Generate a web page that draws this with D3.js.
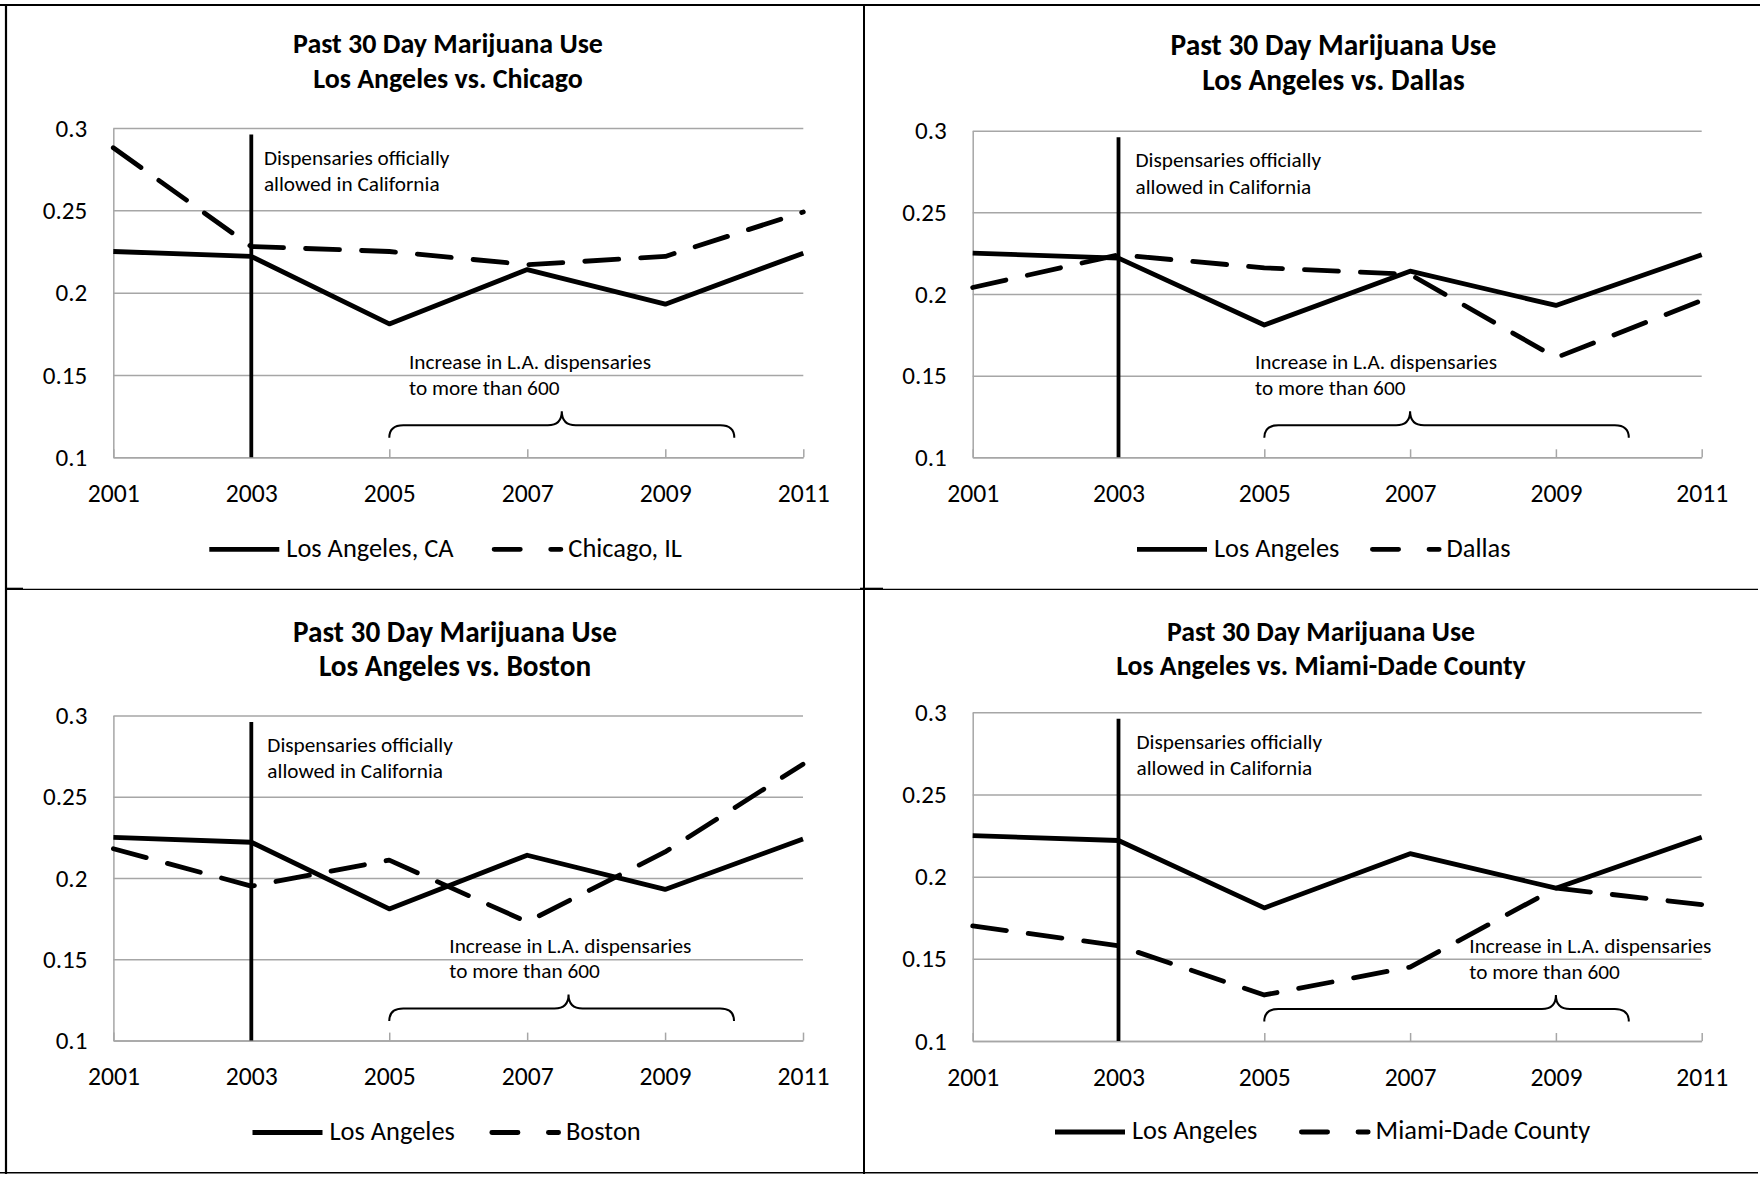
<!DOCTYPE html>
<html>
<head>
<meta charset="utf-8">
<script src="https://cdn.jsdelivr.net/npm/d3@7"></script>
<style>
  body { margin: 0; background: #fff; }
</style>
</head>
<body>
<svg id="chart"></svg>
<script>
// ---- data ----
const years = [2001, 2003, 2005, 2007, 2009, 2011];
const xTickLabels = ["2001", "2003", "2005", "2007", "2009", "2011"];
const yTicks = [0.1, 0.15, 0.2, 0.25, 0.3];
const yTickLabels = ["0.1", "0.15", "0.2", "0.25", "0.3"];

const losAngeles = [0.225, 0.222, 0.181, 0.214, 0.193, 0.224];
const chicago    = [0.288, 0.228, 0.225, 0.217, 0.222, 0.249];
const dallas     = [0.204, 0.224, 0.216, 0.212, 0.161, 0.196];
const boston     = [0.218, 0.195, 0.211, 0.173, 0.216, 0.270];
const miamiDade  = [0.170, 0.158, 0.128, 0.145, 0.193, 0.183];

const comparisons = [chicago, dallas, boston, miamiDade];
const subtitles = ["Los Angeles vs. Chicago", "Los Angeles vs. Dallas",
                   "Los Angeles vs. Boston", "Los Angeles vs. Miami-Dade County"];
const legendLabels = [["Los Angeles, CA", "Chicago, IL"], ["Los Angeles", "Dallas"],
                      ["Los Angeles", "Boston"], ["Los Angeles", "Miami-Dade County"]];
const title = "Past 30 Day Marijuana Use";

const eventYear = 2003;          // dispensaries allowed
const eventTop = 0.296;
const eventNote = ["Dispensaries officially", "allowed in California"];
const growthNote = ["Increase in L.A. dispensaries", "to more than 600"];
const braceStart = 2005, braceEnd = 2010;
const braceTips = [2007.5, 2007, 2007.6, 2009];

// ---- layout of each panel (pixels) ----
const panels = [
  {left: 113.3, right: 803.3, top: 128, bottom: 457.3, titleX: 448, titleY: 53.3, titleW: 310,
   noteDx: 12.6, growthX: 409, legendY: 549.3, solidX: 209.3, dashX: 491.7},
  {left: 972.7, right: 1701.7, top: 130.7, bottom: 457.3, titleX: 1333.5, titleY: 55, titleW: 326,
   noteDx: 17, growthX: 1255, legendY: 549.3, solidX: 1137, dashX: 1370},
  {left: 113.4, right: 803, top: 715.4, bottom: 1040.6, titleX: 455, titleY: 641.7, titleW: 324,
   noteDx: 16, growthX: 449.3, legendY: 1132.5, solidX: 252.5, dashX: 489.4},
  {left: 972.7, right: 1701.7, top: 712.3, bottom: 1041, titleX: 1321, titleY: 640.7, titleW: 308,
   noteDx: 18, growthX: 1469.3, legendY: 1132, solidX: 1055, dashX: 1299}
];

const W = 1760, H = 1177;
const FONT = "Carlito, Calibri, Lato, 'Open Sans', sans-serif";
const GRID = "#a6a6a6";

const svg = d3.select("#chart").attr("width", W).attr("height", H)
  .style("display", "block");

// size a font so a string spans a given width
function fitSize(text, weight, width) {
  const t = svg.append("text").attr("font-family", FONT).attr("font-weight", weight)
    .attr("font-size", 100).text(text);
  const w = t.node().getComputedTextLength();
  t.remove();
  return 100 * width / w;
}

const noteSize = fitSize(eventNote[0], 400, 185.7);
const legendSize = fitSize(legendLabels[0][0], 400, 167.3);
const xTickSize = fitSize("2001", 400, 52);
const yTickSize = fitSize("0.25", 400, 44.5);

// ---- table borders ----
const frame = svg.append("g").attr("stroke", "#000").attr("fill", "none");
frame.append("line").attr("x1", 0).attr("x2", W).attr("y1", 5).attr("y2", 5).attr("stroke-width", 2.2);
frame.append("line").attr("x1", 6).attr("x2", 6).attr("y1", 4).attr("y2", 1174).attr("stroke-width", 2.2);
frame.append("line").attr("x1", 864).attr("x2", 864).attr("y1", 4).attr("y2", 1174).attr("stroke-width", 2);
frame.append("line").attr("x1", 6).attr("x2", 1758).attr("y1", 589.3).attr("y2", 589.3).attr("stroke-width", 1.3);
frame.append("line").attr("x1", 6).attr("x2", 23).attr("y1", 588.8).attr("y2", 588.8).attr("stroke-width", 2.2);
frame.append("line").attr("x1", 860).attr("x2", 883).attr("y1", 588.8).attr("y2", 588.8).attr("stroke-width", 2.2);
frame.append("line").attr("x1", 0).attr("x2", 1758).attr("y1", 1172.7).attr("y2", 1172.7).attr("stroke-width", 1.6);

panels.forEach((p, i) => {
  const g = svg.append("g");
  const x = d3.scaleLinear([years[0], years[years.length - 1]], [p.left, p.right]);
  const y = d3.scaleLinear([yTicks[0], yTicks[yTicks.length - 1]], [p.bottom, p.top]);

  // title
  const tSize = fitSize(title, 700, p.titleW);
  g.append("g").attr("font-family", FONT).attr("font-weight", 700).attr("font-size", tSize)
    .attr("text-anchor", "middle")
    .selectAll("text").data([title, subtitles[i]]).join("text")
    .attr("x", p.titleX).attr("y", (d, k) => p.titleY + k * 34.5)
    .text(d => d);

  // y axis with gridlines
  g.append("g")
    .attr("transform", `translate(${p.left},0)`)
    .call(d3.axisLeft(y).tickValues(yTicks).tickSize(-(p.right - p.left)).tickSizeOuter(0)
      .tickPadding(26).tickFormat((d, k) => yTickLabels[k]))
    .call(a => a.selectAll("line").attr("stroke", GRID).attr("stroke-width", 1.5))
    .call(a => a.select(".domain").attr("stroke", GRID).attr("stroke-width", 1.5))
    .call(a => a.selectAll("text").attr("font-family", FONT).attr("font-size", yTickSize).attr("fill", "#000"));

  // x axis, ticks pointing up
  g.append("g")
    .attr("transform", `translate(0,${p.bottom})`)
    .call(d3.axisBottom(x).tickValues(years).tickSize(-8).tickSizeOuter(0)
      .tickPadding(26.5).tickFormat((d, k) => xTickLabels[k]))
    .call(a => a.selectAll("line").attr("stroke", GRID).attr("stroke-width", 1.5))
    .call(a => a.select(".domain").attr("stroke", GRID).attr("stroke-width", 1.5))
    .call(a => a.selectAll("text").attr("font-family", FONT).attr("font-size", xTickSize).attr("fill", "#000"));

  // series
  const line = d3.line().x((d, k) => x(years[k])).y(d => y(d));
  g.append("path").attr("d", line(losAngeles))
    .attr("fill", "none").attr("stroke", "#000").attr("stroke-width", 4.8)
    .attr("stroke-linejoin", "round");
  g.append("path").attr("d", line(comparisons[i]))
    .attr("fill", "none").attr("stroke", "#000").attr("stroke-width", 4.8)
    .attr("stroke-dasharray", "34,22").attr("stroke-linecap", "round")
    .attr("stroke-linejoin", "round");

  // event marker
  g.append("line")
    .attr("x1", x(eventYear)).attr("x2", x(eventYear))
    .attr("y1", y(eventTop)).attr("y2", y(yTicks[0]))
    .attr("stroke", "#000").attr("stroke-width", 3.8);

  g.append("g").attr("font-family", FONT).attr("font-size", noteSize)
    .selectAll("text").data(eventNote).join("text")
    .attr("x", x(eventYear) + p.noteDx).attr("y", (d, k) => p.top + 36.5 + k * 26.3)
    .text(d => d);

  g.append("g").attr("font-family", FONT).attr("font-size", noteSize)
    .selectAll("text").data(growthNote).join("text")
    .attr("x", p.growthX).attr("y", (d, k) => p.bottom - 88 + k * 25.7)
    .text(d => d);

  // curly brace under the growth note
  const x0 = x(braceStart), x1 = x(braceEnd), xt = x(braceTips[i]);
  const yF = p.bottom - 32, yT = p.bottom - 46, yE = p.bottom - 19.5, r = 14, rt = 14;
  const brace = d3.path();
  brace.moveTo(x0, yE);
  brace.quadraticCurveTo(x0, yF, x0 + r, yF);
  brace.lineTo(xt - rt, yF);
  brace.quadraticCurveTo(xt, yF, xt, yT);
  brace.quadraticCurveTo(xt, yF, xt + rt, yF);
  brace.lineTo(x1 - r, yF);
  brace.quadraticCurveTo(x1, yF, x1, yE);
  g.append("path").attr("d", brace.toString())
    .attr("fill", "none").attr("stroke", "#000").attr("stroke-width", 2);

  // legend
  const ly = p.legendY;
  g.append("line").attr("x1", p.solidX).attr("x2", p.solidX + 70)
    .attr("y1", ly).attr("y2", ly)
    .attr("stroke", "#000").attr("stroke-width", 4.8);
  g.append("line").attr("x1", p.dashX + 2.4).attr("x2", p.dashX + 71.6 - 2.4)
    .attr("y1", ly).attr("y2", ly)
    .attr("stroke", "#000").attr("stroke-width", 4.8).attr("stroke-linecap", "round")
    .attr("stroke-dasharray", "26.2,30.4,10.2");
  g.append("g").attr("font-family", FONT).attr("font-size", legendSize)
    .selectAll("text").data(legendLabels[i]).join("text")
    .attr("x", (d, k) => k === 0 ? p.solidX + 77 : p.dashX + 76.6)
    .attr("y", ly + 7.4)
    .text(d => d);
});
</script>
</body>
</html>
